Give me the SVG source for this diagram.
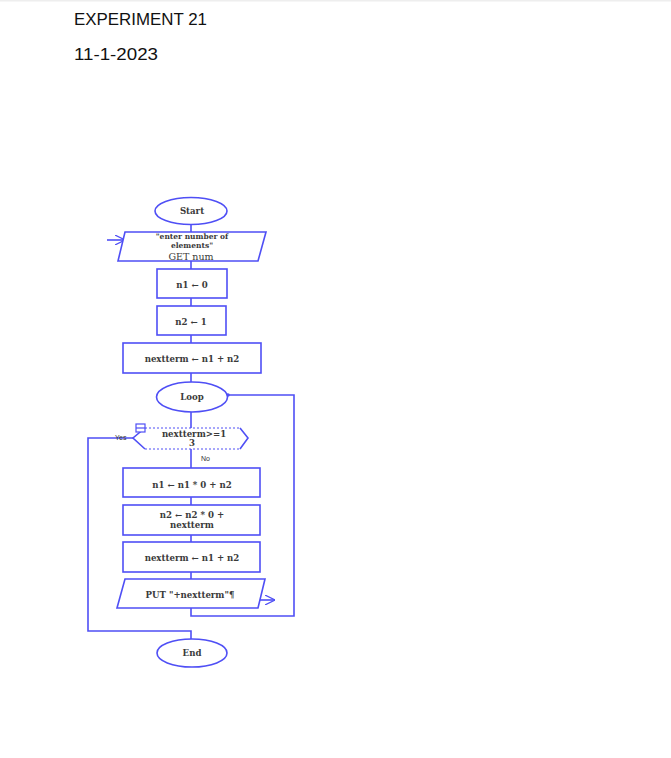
<svg xmlns="http://www.w3.org/2000/svg" width="671" height="758" viewBox="0 0 671 758">
<style>
.s{fill:#fff;stroke:#4f4ff5;stroke-width:1.6}
.l{fill:none;stroke:#4f4ff5;stroke-width:1.6}
.t{font-family:"DejaVu Serif","Liberation Serif",serif;font-weight:bold;font-size:8.6px;fill:#3a3a3a;text-anchor:middle}
.h{font-family:"Liberation Sans","Open Sans",sans-serif;font-size:16.5px;fill:#111}
.y{font-family:"Liberation Sans",sans-serif;font-size:7px;fill:#333}
</style>
<defs>
<marker id="oa" viewBox="0 0 10 10" refX="10" refY="5" markerWidth="10" markerHeight="10" markerUnits="userSpaceOnUse" orient="auto">
<path d="M0,0 L10,5 L0,10" fill="none" stroke="#4f4ff5" stroke-width="1.2"/>
</marker>
</defs>
<rect x="0" y="0" width="671" height="1.5" fill="#eeeeee"/>
<text class="h" x="74" y="25" textLength="133" lengthAdjust="spacingAndGlyphs">EXPERIMENT 21</text>
<text class="h" x="74" y="60" textLength="84" lengthAdjust="spacingAndGlyphs">11-1-2023</text>

<g id="connectors">
<line class="l" x1="191" y1="224" x2="191" y2="232"/>
<line class="l" x1="107" y1="240" x2="125" y2="240" marker-end="url(#oa)"/>
<line class="l" x1="191" y1="261" x2="191" y2="269"/>
<line class="l" x1="191" y1="298" x2="191" y2="306"/>
<line class="l" x1="191" y1="335" x2="191" y2="343"/>
<line class="l" x1="191" y1="373" x2="191" y2="382"/>
<line class="l" x1="191" y1="412" x2="191" y2="428"/>
<line class="l" x1="191" y1="449" x2="191" y2="468"/>
<line class="l" x1="191" y1="497" x2="191" y2="505"/>
<line class="l" x1="191" y1="535" x2="191" y2="542"/>
<line class="l" x1="191" y1="572" x2="191" y2="579"/>
<polyline class="l" points="191,608 191,616 294,616 294,395 228,395"/>
<circle cx="228" cy="395" r="1.8" fill="#4f4ff5"/>
<line class="l" x1="258" y1="600" x2="275" y2="600" marker-end="url(#oa)"/>
<polyline class="l" points="133,438 88,438 88,631 191,631 191,639"/>
<text class="y" x="115" y="440">Yes</text>
<text class="y" x="201" y="461">No</text>
</g>

<g id="start">
<ellipse class="s" cx="191" cy="211" rx="36" ry="13.5"/>
<text class="t" x="192" y="214">Start</text>
</g>

<g id="input">
<polygon class="s" points="125,232 266,232 258,261 118,261"/>
<text class="t" x="192" y="238.5" style="font-size:7.5px">"enter number of</text>
<text class="t" x="192" y="247.5" style="font-size:7.5px">elements"</text>
<text class="t" x="191" y="260" style="font-size:9.5px;font-weight:normal">GET num</text>
</g>

<g id="n1init">
<rect class="s" x="157" y="269" width="70" height="29"/>
<text class="t" x="192" y="288">n1 ← 0</text>
</g>

<g id="n2init">
<rect class="s" x="157" y="306" width="69" height="29"/>
<text class="t" x="191" y="325">n2 ← 1</text>
</g>

<g id="nextinit">
<rect class="s" x="123" y="343" width="138" height="30"/>
<text class="t" x="192" y="362">nextterm ← n1 + n2</text>
</g>

<g id="loop">
<ellipse class="s" cx="192" cy="397" rx="35.5" ry="15"/>
<text class="t" x="192" y="400">Loop</text>
</g>

<g id="decision">
<polygon points="145,428 240,428 248,438 240,449 145,449 133,438" fill="#fff"/>
<polyline class="l" points="145,428 133,438 145,449"/>
<polyline class="l" points="240,428 248,438 240,449"/>
<line x1="145" y1="428" x2="240" y2="428" stroke="#4f4ff5" stroke-width="1" stroke-dasharray="2,2"/>
<line x1="145" y1="449" x2="240" y2="449" stroke="#4f4ff5" stroke-width="1" stroke-dasharray="2,2"/>
<rect x="136" y="424" width="9" height="8" fill="#fff" stroke="#4f4ff5" stroke-width="1.2"/>
<line x1="136" y1="428" x2="145" y2="428" stroke="#4f4ff5" stroke-width="1.2"/>
<text class="t" x="194" y="437">nextterm&gt;=1</text>
<text class="t" x="192" y="446">3</text>
</g>

<g id="n1update">
<rect class="s" x="123" y="468" width="137" height="29"/>
<text class="t" x="192" y="488">n1 ← n1 * 0 + n2</text>
</g>

<g id="n2update">
<rect class="s" x="123" y="505" width="137" height="30"/>
<text class="t" x="192" y="518">n2 ← n2 * 0 +</text>
<text class="t" x="192" y="528">nextterm</text>
</g>

<g id="nextupdate">
<rect class="s" x="123" y="542" width="137" height="30"/>
<text class="t" x="192" y="561">nextterm ← n1 + n2</text>
</g>

<g id="output">
<polygon class="s" points="125,579 265,579 258,608 117,608"/>
<text class="t" x="190" y="598">PUT "+nextterm"¶</text>
</g>

<g id="end">
<ellipse class="s" cx="192" cy="653" rx="35" ry="14"/>
<text class="t" x="192" y="656">End</text>
</g>
</svg>
